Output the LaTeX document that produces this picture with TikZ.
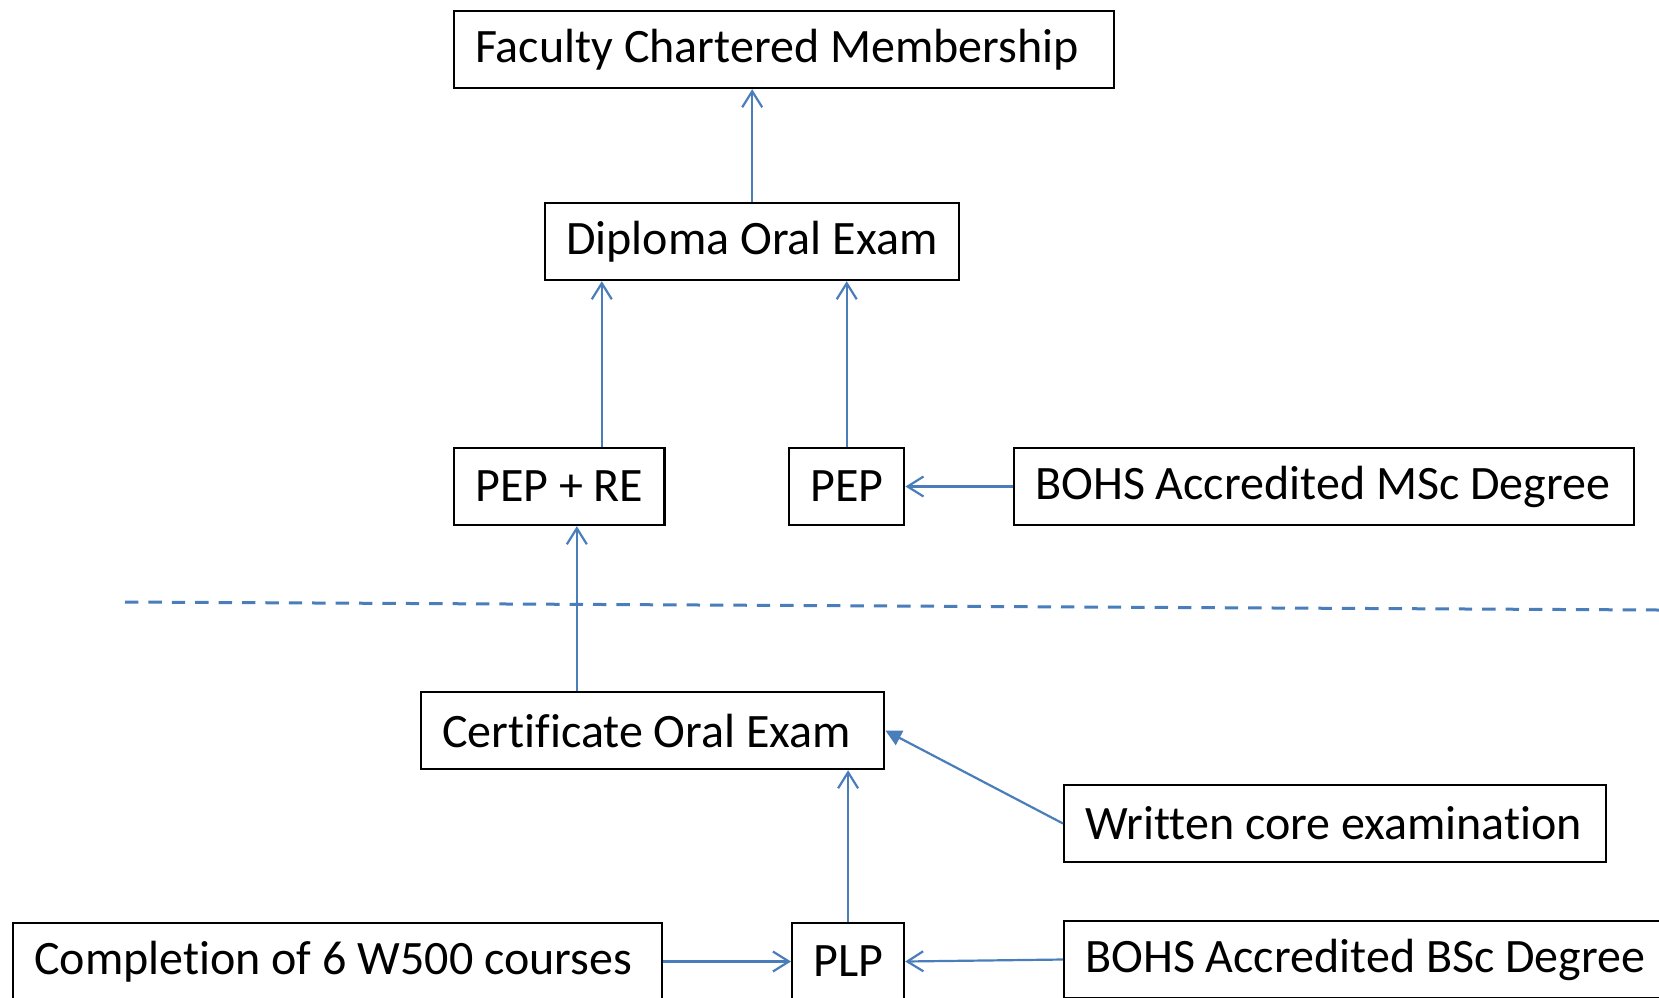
\documentclass[tikz,border=0pt]{standalone}
\usepackage{fontspec}
\setmainfont{Carlito}[Ligatures=CommonOff]
\usetikzlibrary{arrows.meta,calc}
\definecolor{linkblue}{RGB}{74,126,187}
\newcommand{\lefttext}[2]{\makebox[#1][l]{#2}}

\begin{document}
\begin{tikzpicture}[x=0.5pt,y=-0.5pt,
  box/.style={draw=black,line width=1.2pt,anchor=west,minimum height=38.5pt,inner xsep=10.5pt,inner ysep=0pt,font=\fontsize{24pt}{28pt}\selectfont},
  link/.style={draw=linkblue,line width=1.1pt,-{Straight Barb[length=8pt,width=10pt]}},
  flink/.style={draw=linkblue,line width=1.1pt,-{Triangle[length=8pt,width=8pt]}}]

\useasboundingbox (0,0) rectangle (1659,997);

\node[box] (fac) at (453,49.5) {\lefttext{309pt}{Faculty Chartered Membership}};
\node[box] (dip) at (544,241.5) {\lefttext{186pt}{Diploma Oral Exam}};
\node[box] (pepre) at (453,486.5) {PEP + RE};
\node[box] (pep) at (788,486.5) {PEP};
\node[box] (msc) at (1013,486.5) {\lefttext{289pt}{BOHS Accredited MSc Degree}};
\node[box] (cert) at (420,730.5) {\lefttext{210.5pt}{Certificate Oral Exam}};
\node[box] (writ) at (1063,823.5) {\lefttext{250pt}{Written core examination}};
\node[box] (comp) at (12,961.5) {\lefttext{303.5pt}{Completion of 6 W500 courses}};
\node[box] (plp) at (791,961.5) {PLP};
\node[box] (bsc) at (1063,959.5) {\lefttext{300pt}{BOHS Accredited BSc Degree}};

\coordinate (cutl) at (125,602);
\coordinate (cutr) at (1659,610);
\draw[linkblue,line width=1.5pt,dash pattern=on 6.7pt off 5pt] (cutl) -- (cutr);

\coordinate (pepretop) at ($(pepre.north west)!0.7!(pepre.north east)$);
\coordinate (certtop) at ($(cert.north west)!0.337!(cert.north east)$);

\draw[link] (dip.north) -- (dip.north |- fac.south);
\draw[link] (pepretop) -- (pepretop |- dip.south);
\draw[link] (pep.north) -- (pep.north |- dip.south);
\draw[link] (msc.west) -- (pep.east);
\draw[link] (certtop) -- (certtop |- pepre.south);
\draw[flink] (writ.west) -- (cert.east);
\draw[link] (plp.north) -- (plp.north |- cert.south);
\draw[link] (comp.east) -- (plp.west);
\draw[link] (bsc.west) -- (plp.east);
\end{tikzpicture}
\end{document}
